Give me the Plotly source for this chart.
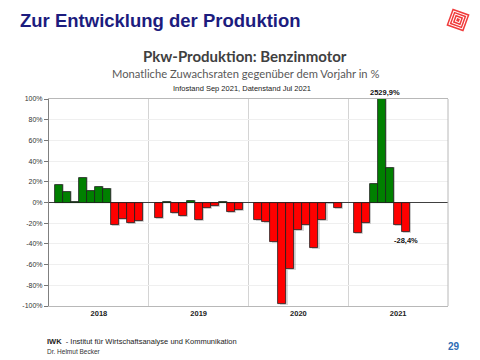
import plotly.graph_objects as go
import math

# ---------------- data ----------------
YEARS = ["2018", "2019", "2020", "2021"]
V2018 = [16.8, 10.4, 0.6, 24.0, 11.0, 14.6, 12.6, -21.4, -15.5, -19.4, -18.1]
V2019 = [-15.2, 0.5, -10.4, -13.3, 1.9, -17.2, -5.2, -3.2, 0.5, -9.4, -6.8]
V2020 = [-16.8, -18.4, -38.2, -98.0, -64.4, -26.5, -21.4, -44.0, -16.5, -0.8, -4.9]
V2021 = [-29.1, -19.7, 17.8, 2529.9, 33.0, -21.4, -28.4]
SERIES = [V2018, V2019, V2020, V2021]
LABELED_2021 = [3, 6]          # indexes of 2021 values that carry a label
Y_TICKS = [-100, -80, -60, -40, -20, 0, 20, 40, 60, 80, 100]
Y_TICKTEXT = [f"{v}%" for v in Y_TICKS]

# ---------------- layout constants ----------------
W, H = 480, 360
L, R, T, B = 49, 32, 99, 54
SLOTS_PER_YEAR = 12.5
FIRST_OFFSET = 0.75

def px(x):
    return (x - L) / (W - L - R)

def py(y):
    return (H - B - y) / (H - T - B)

xs, ys = [], []
for k, vals in enumerate(SERIES):
    for i, v in enumerate(vals):
        xs.append(k * SLOTS_PER_YEAR + FIRST_OFFSET + i + 0.5)
        ys.append(v)
colors = ["#008000" if v >= 0 else "#ff0000" for v in ys]

fig = go.Figure()
# soft shadow like the original
fig.add_trace(go.Bar(
    x=[x + 0.15 for x in xs], y=[v + (1.0 if v >= 0 else -1.0) for v in ys],
    width=1, marker=dict(color="rgba(0,0,0,0.15)", line=dict(width=0)),
    hoverinfo="skip", showlegend=False))
fig.add_trace(go.Bar(
    x=xs, y=ys, width=1,
    marker=dict(color=colors, line=dict(color="#1e1e1e", width=0.8)),
    showlegend=False))

fig.update_layout(
    width=W, height=H, barmode="overlay", bargap=0,
    margin=dict(l=L, r=R, t=T, b=B),
    paper_bgcolor="white", plot_bgcolor="white",
    font=dict(family="Liberation Sans, Arial", color="#222"),
    showlegend=False,
)
year_centers = [k * SLOTS_PER_YEAR + SLOTS_PER_YEAR / 2 for k in range(len(YEARS))]
fig.update_xaxes(
    range=[0, SLOTS_PER_YEAR * len(YEARS)],
    tickmode="array", tickvals=year_centers, ticktext=[f"<b>{y}</b>" for y in YEARS],
    tickfont=dict(size=7.5, color="#222"), ticks="", showgrid=False, zeroline=False,
    showline=True, linecolor="#b8b8b8", linewidth=1, mirror=True,
    minor=dict(tick0=0, dtick=SLOTS_PER_YEAR, showgrid=True, gridcolor="#d4d4d4", gridwidth=1, ticks=""),
    fixedrange=True,
)
fig.update_yaxes(
    range=[-100, 100], tickmode="array", tickvals=Y_TICKS, ticktext=Y_TICKTEXT,
    tickfont=dict(size=7, color="#333"), ticks="outside", ticklen=4, tickcolor="#777",
    showgrid=True, gridcolor="#efefef", gridwidth=1,
    zeroline=True, zerolinecolor="#404040", zerolinewidth=1,
    showline=True, linecolor="#808080", linewidth=1, mirror=False,
    fixedrange=True,
)
fig.add_shape(type="line", xref="paper", yref="paper", x0=1, x1=1, y0=0, y1=1,
              line=dict(color="#b8b8b8", width=1))

ann = []
def text(x, y, s, size, color="#222", family="Liberation Sans, Arial", xanchor="center",
         yanchor="middle", weight="normal"):
    ann.append(dict(x=px(x), y=py(y), xref="paper", yref="paper", text=s, showarrow=False,
                    xanchor=xanchor, yanchor=yanchor,
                    font=dict(size=size, color=color, family=family, weight=weight)))

text(18, 20, "Zur Entwicklung der Produktion", 18.5, color="#1c1c7e", xanchor="left", weight="bold")
text(245, 56, "Pkw-Produktion: Benzinmotor", 15, color="#404040", family="Lato", weight="bold")
text(245, 73, "Monatliche Zuwachsraten gegenüber dem Vorjahr in %", 11.2, color="#595959", family="Lato")
text(242, 88, "Infostand Sep 2021, Datenstand Jul 2021", 7.5, color="#222")
text(45, 341, "<b>IWK</b>  - Institut für Wirtschaftsanalyse und Kommunikation", 7.5, color="#222", xanchor="left")
text(45, 351, "Dr. Helmut Becker", 6.5, color="#333", xanchor="left")
text(462, 346, "29", 10, color="#2e6db4", xanchor="right", weight="bold")

k21 = YEARS.index("2021")
for i in LABELED_2021:
    v = V2021[i]
    xv = k21 * SLOTS_PER_YEAR + FIRST_OFFSET + i + 0.5
    lab = f"{v:.1f}".replace(".", ",") + "%"
    if v > 100:
        ann.append(dict(x=xv, y=100, xref="x", yref="y", text=f"<b>{lab}</b>", showarrow=False,
                        yanchor="bottom", yshift=0, xshift=3, font=dict(size=7.5, color="#111")))
    else:
        ann.append(dict(x=xv, y=v, xref="x", yref="y", text=f"<b>{lab}</b>", showarrow=False,
                        yanchor="top", yshift=-2, font=dict(size=7.5, color="#111")))
fig.update_layout(annotations=ann)

# logo: rotated red maze-like square
cx, cy = 458, 20
ang = math.radians(20)
def sq(half):
    pts = []
    for dx, dy in [(-half, -half), (half, -half), (half, half), (-half, half)]:
        rx = dx * math.cos(ang) - dy * math.sin(ang)
        ry = dx * math.sin(ang) + dy * math.cos(ang)
        pts.append((px(cx + rx), py(cy + ry)))
    return "M " + " L ".join(f"{a},{b}" for a, b in pts) + " Z"
for half, col in [(9, "#f03a3a"), (7.5, "#ffffff"), (6.5, "#f03a3a"), (5, "#ffffff"), (4, "#f03a3a"), (2.5, "#ffffff"), (1.5, "#f03a3a")]:
    fig.add_shape(type="path", xref="paper", yref="paper", path=sq(half),
                  fillcolor=col, line=dict(width=0), layer="above")

fig.write_html("out.html", config={"displayModeBar": False},
               post_script="document.body.style.margin='0';")
